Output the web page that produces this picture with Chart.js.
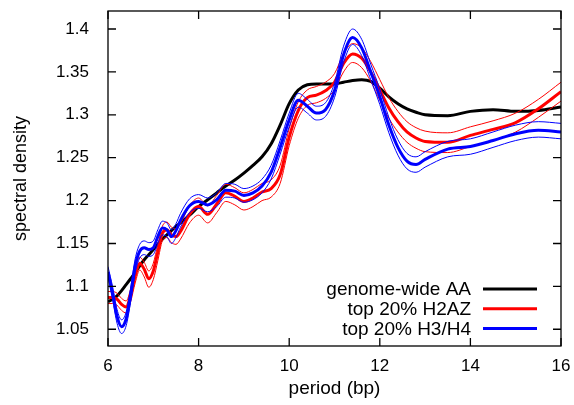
<!DOCTYPE html>
<html>
<head>
<meta charset="utf-8">
<script src="https://cdn.jsdelivr.net/npm/chart.js@4"></script>
<style>
  html, body { margin: 0; padding: 0; background: #fff; }
  #wrap { width: 574px; height: 405px; }
</style>
</head>
<body>
<div id="wrap"><canvas id="spectrum" width="574" height="405"></canvas></div>
<script>
const periods = [6.0, 6.1, 6.2, 6.3, 6.4, 6.5, 6.6, 6.7, 6.8, 6.9, 7.0, 7.1, 7.2, 7.3, 7.4, 7.5, 7.6,
    7.8, 8.0, 8.2, 8.4, 8.6, 8.8, 9.0, 9.2, 9.4, 9.6, 9.8, 10.0, 10.2, 10.4, 10.6, 10.8, 11.0, 11.2, 11.4,
    11.6, 11.8, 12.0, 12.2, 12.4, 12.6, 12.8, 13.0, 13.5, 14.0, 14.5, 15.0, 15.5, 16.0];

const genomeWide = [1.082, 1.085, 1.089, 1.095, 1.102, 1.109, 1.116, 1.124, 1.131, 1.137, 1.143, 1.149, 1.155, 1.160, 1.165, 1.170, 1.174,
    1.183, 1.193, 1.201, 1.209, 1.217, 1.224, 1.232, 1.241, 1.251, 1.266, 1.288, 1.313, 1.329, 1.335, 1.336, 1.336, 1.336, 1.338, 1.340,
    1.341, 1.339, 1.331, 1.321, 1.313, 1.307, 1.303, 1.300, 1.299, 1.304, 1.306, 1.304, 1.305, 1.309];

const h2az = [1.087, 1.087, 1.085, 1.079, 1.076, 1.090, 1.112, 1.127, 1.120, 1.109, 1.118, 1.140, 1.162, 1.166, 1.160, 1.158, 1.164,
    1.184, 1.193, 1.184, 1.196, 1.209, 1.205, 1.199, 1.203, 1.210, 1.214, 1.230, 1.274, 1.305, 1.320, 1.323, 1.328, 1.338, 1.360, 1.371,
    1.366, 1.350, 1.329, 1.308, 1.292, 1.280, 1.273, 1.269, 1.268, 1.276, 1.283, 1.291, 1.307, 1.327];
const h2azHigh = [1.094, 1.094, 1.092, 1.086, 1.083, 1.097, 1.119, 1.134, 1.128, 1.118, 1.127, 1.149, 1.170, 1.175, 1.169, 1.167, 1.173,
    1.194, 1.203, 1.194, 1.206, 1.219, 1.215, 1.209, 1.213, 1.220, 1.224, 1.241, 1.284, 1.315, 1.329, 1.333, 1.338, 1.348, 1.371, 1.383,
    1.378, 1.362, 1.341, 1.320, 1.304, 1.292, 1.285, 1.281, 1.279, 1.286, 1.293, 1.302, 1.318, 1.338];
const h2azLow = [1.080, 1.080, 1.078, 1.072, 1.069, 1.082, 1.104, 1.119, 1.111, 1.099, 1.108, 1.130, 1.153, 1.157, 1.151, 1.149, 1.155,
    1.174, 1.183, 1.174, 1.186, 1.199, 1.195, 1.189, 1.193, 1.200, 1.204, 1.220, 1.264, 1.296, 1.311, 1.314, 1.319, 1.329, 1.350, 1.361,
    1.355, 1.339, 1.317, 1.296, 1.280, 1.268, 1.261, 1.257, 1.256, 1.263, 1.270, 1.280, 1.297, 1.316];

const h3h4 = [1.117, 1.092, 1.065, 1.053, 1.062, 1.090, 1.124, 1.141, 1.145, 1.143, 1.145, 1.158, 1.168, 1.166, 1.158, 1.165, 1.177,
    1.194, 1.199, 1.195, 1.201, 1.212, 1.211, 1.206, 1.209, 1.217, 1.233, 1.262, 1.294, 1.317, 1.310, 1.302, 1.306, 1.328, 1.370, 1.390,
    1.378, 1.350, 1.321, 1.288, 1.262, 1.246, 1.242, 1.248, 1.260, 1.263, 1.270, 1.278, 1.282, 1.280];
const h3h4High = [1.123, 1.100, 1.073, 1.061, 1.070, 1.098, 1.132, 1.149, 1.153, 1.151, 1.153, 1.166, 1.176, 1.174, 1.166, 1.173, 1.185,
    1.202, 1.207, 1.203, 1.209, 1.220, 1.219, 1.214, 1.217, 1.225, 1.241, 1.270, 1.302, 1.325, 1.318, 1.310, 1.314, 1.337, 1.380, 1.400,
    1.388, 1.359, 1.330, 1.297, 1.271, 1.255, 1.251, 1.257, 1.269, 1.272, 1.280, 1.288, 1.292, 1.290];
const h3h4Low = [1.111, 1.085, 1.057, 1.045, 1.054, 1.082, 1.116, 1.133, 1.137, 1.135, 1.137, 1.150, 1.160, 1.158, 1.150, 1.157, 1.169,
    1.186, 1.191, 1.187, 1.193, 1.204, 1.203, 1.198, 1.201, 1.209, 1.225, 1.254, 1.286, 1.309, 1.302, 1.294, 1.298, 1.320, 1.361, 1.382,
    1.369, 1.341, 1.312, 1.279, 1.253, 1.237, 1.233, 1.239, 1.251, 1.254, 1.262, 1.270, 1.274, 1.272];

const xTicks = [6, 8, 10, 12, 14, 16];
const yTicks = [1.05, 1.1, 1.15, 1.2, 1.25, 1.3, 1.35, 1.4];

const family = '"Liberation Sans", Arial, Helvetica, sans-serif';

const toPoints = (values) => values.map((v, i) => ({x: periods[i], y: v}));

const line = (label, color, width, values, order) => ({
    label: label,
    data: toPoints(values),
    borderColor: color,
    backgroundColor: color,
    borderWidth: width,
    pointRadius: 0,
    fill: false,
    cubicInterpolationMode: 'monotone',
    order: order
});

// box round the plot with ticks pointing inwards on all four sides
const framePlugin = {
    id: 'frame',
    afterDatasetsDraw(chart) {
        const {ctx, chartArea: a, scales: {x, y}} = chart;
        ctx.save();
        ctx.strokeStyle = '#000';
        ctx.lineWidth = 1.3;
        ctx.strokeRect(a.left, a.top, a.right - a.left, a.bottom - a.top);
        ctx.beginPath();
        xTicks.forEach(t => {
            const px = x.getPixelForValue(t);
            ctx.moveTo(px, a.bottom); ctx.lineTo(px, a.bottom - 8);
            ctx.moveTo(px, a.top); ctx.lineTo(px, a.top + 8);
        });
        yTicks.forEach(t => {
            const py = y.getPixelForValue(t);
            ctx.moveTo(a.left, py); ctx.lineTo(a.left + 8, py);
            ctx.moveTo(a.right, py); ctx.lineTo(a.right - 8, py);
        });
        ctx.stroke();
        ctx.restore();
    }
};

// key in the lower right corner: text, then a short line sample
const keyPlugin = {
    id: 'key',
    afterDraw(chart) {
        const {ctx, chartArea: a} = chart;
        const keyed = chart.data.datasets.filter(d => d.label);
        ctx.save();
        ctx.font = '19px ' + family;
        ctx.textAlign = 'right';
        ctx.textBaseline = 'middle';
        keyed.forEach((d, i) => {
            const yy = a.bottom - 57 + i * 19.7;
            ctx.fillStyle = '#000';
            ctx.fillText(d.label, a.right - 90, yy + 1);
            ctx.strokeStyle = d.borderColor;
            ctx.lineWidth = 3;
            ctx.beginPath();
            ctx.moveTo(a.right - 78, yy);
            ctx.lineTo(a.right - 24, yy);
            ctx.stroke();
        });
        ctx.restore();
    }
};

const config = {
    type: 'line',
    data: {
        datasets: [
            line('genome-wide AA', '#000000', 3, genomeWide, 7),
            line('top 20% H2AZ', '#ff0000', 3, h2az, 4),
            line('top 20% H3/H4', '#0000ff', 3, h3h4, 1),
            line('', '#ff0000', 1, h2azHigh, 5),
            line('', '#ff0000', 1, h2azLow, 6),
            line('', '#0000ff', 1, h3h4High, 2),
            line('', '#0000ff', 1, h3h4Low, 3)
        ]
    },
    options: {
        responsive: false,
        animation: false,
        layout: {padding: {left: 0, top: 11, right: 13, bottom: 0}},
        plugins: {legend: {display: false}, tooltip: {enabled: false}},
        scales: {
            x: {
                type: 'linear',
                min: 6,
                max: 16,
                grid: {display: false, drawTicks: false},
                border: {display: false},
                afterBuildTicks: s => { s.ticks = xTicks.map(v => ({value: v})); },
                afterFit: s => { s.height = 59; s.paddingLeft = 0; s.paddingRight = 0; },
                ticks: {color: '#000', font: {size: 17, family: family}, padding: 10, maxRotation: 0},
                title: {display: true, text: 'period (bp)', color: '#000', font: {size: 19, family: family}, padding: {top: 0, bottom: 5}}
            },
            y: {
                type: 'linear',
                min: 1.0305,
                max: 1.421,
                grid: {display: false, drawTicks: false},
                border: {display: false},
                afterBuildTicks: s => { s.ticks = yTicks.map(v => ({value: v})); },
                afterFit: s => { s.width = 108; s.paddingTop = 0; s.paddingBottom = 0; },
                ticks: {color: '#000', font: {size: 17, family: family}, padding: 19,
                    callback: v => String(+v.toFixed(2))},
                title: {display: true, text: 'spectral density', color: '#000', font: {size: 18, family: family}, padding: {top: 10, bottom: 0}}
            }
        }
    },
    plugins: [framePlugin, keyPlugin]
};

const spectrumChart = new Chart(document.getElementById('spectrum'), config);
</script>
</body>
</html>
